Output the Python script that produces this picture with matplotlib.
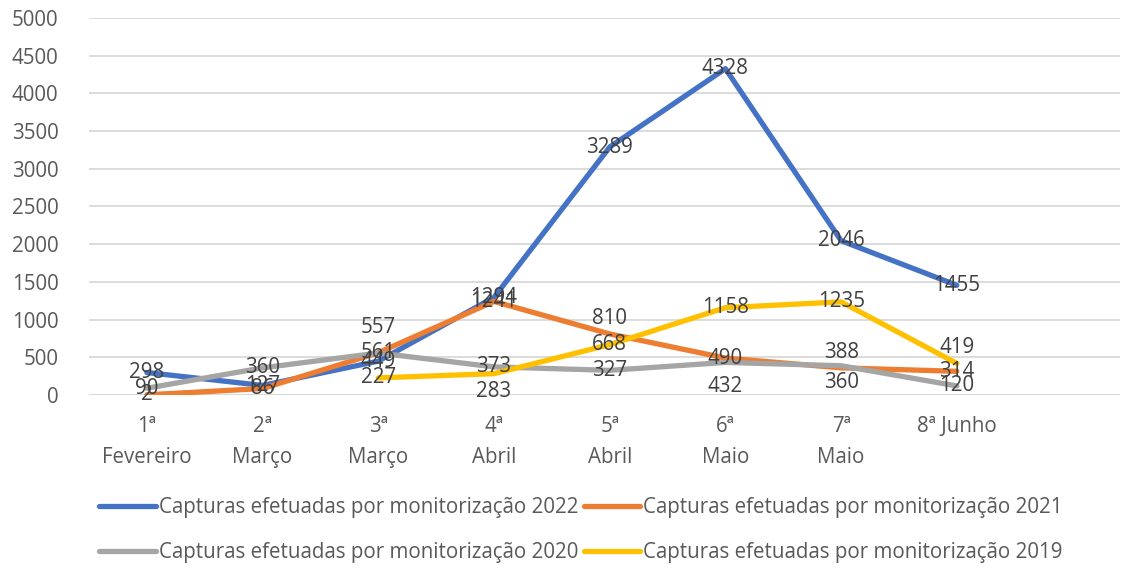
import numpy as np
import matplotlib
matplotlib.use("Agg")
import matplotlib.pyplot as plt

# ---- data ----
categories = ["1ª\nFevereiro", "2ª\nMarço", "3ª\nMarço", "4ª\nAbril", "5ª\nAbril",
              "6ª\nMaio", "7ª\nMaio", "8ª Junho"]
s2022 = [298, 127, 449, 1294, 3289, 4328, 2046, 1455]
s2021 = [2, 86, 561, 1241, 810, 490, 360, 314]
s2020 = [90, 360, 557, 373, 327, 432, 388, 120]
s2019 = [np.nan, np.nan, 227, 283, 668, 1158, 1235, 419]
series_names = ["Capturas efetuadas por monitorização 2022",
                "Capturas efetuadas por monitorização 2021",
                "Capturas efetuadas por monitorização 2020",
                "Capturas efetuadas por monitorização 2019"]
y_ticks = [0, 500, 1000, 1500, 2000, 2500, 3000, 3500, 4000, 4500, 5000]

# ---- style ----
colors = ["#4472C4", "#ED7D31", "#A5A5A5", "#FFC000"]
# vertical label nudges in pixels (positive = up), per series / point
label_dy = [
    [0, 0, 0, 0, 0, 0, 0, 0],
    [0, 0, 0, 0, 15, 0, -15, 0],
    [0, 0, 26, 0, 0, -24, 13, 0],
    [0, 0, 0, -18, 0, 0, 0, 16],
]

plt.rcParams['font.family'] = ['Open Sans', 'DejaVu Sans']
FS = 14.8

fig = plt.figure(figsize=(11.23, 5.68), dpi=100)
ax = fig.add_axes([89 / 1123, 173 / 568, (1120 - 89) / 1123, (550 - 173) / 568])

x = np.arange(len(categories))
all_series = [s2022, s2021, s2020, s2019]
lines = []
for vals, col, name in zip(all_series, colors, series_names):
    ln, = ax.plot(x, vals, color=col, lw=3.8, solid_joinstyle='round',
                  solid_capstyle='round', label=name, zorder=3)
    lines.append(ln)

for vals, dys in zip(all_series, label_dy):
    for xi, v, dy in zip(x, vals, dys):
        if np.isnan(v):
            continue
        ax.annotate(f"{int(v)}", (xi, v), xytext=(0, dy), textcoords='offset pixels',
                    ha='center', va='center', fontsize=FS, color='#404040', zorder=5)

ax.set_xlim(-0.5, 8.41)
ax.set_ylim(0, 5000)
ax.set_yticks(y_ticks)
ax.set_yticklabels([str(t) for t in y_ticks], fontsize=FS, color='#595959')
ax.set_xticks(x)
ax.set_xticklabels(categories, fontsize=FS, color='#595959', linespacing=1.65, va='top')
ax.tick_params(axis='both', length=0)
ax.tick_params(axis='x', pad=15)
ax.tick_params(axis='y', pad=22)
ax.grid(axis='y', color='#D9D9D9', lw=1.3, zorder=0)
for sp in ax.spines.values():
    sp.set_visible(False)
ax.axhline(0, color='#D9D9D9', lw=1.3, zorder=1)

# row-major legend order: 2022, 2021 / 2020, 2019
order = [0, 2, 1, 3]
leg = fig.legend([lines[i] for i in order], [series_names[i] for i in order], ncol=2,
                 loc='center', bbox_to_anchor=(581 / 1123, 1 - 530 / 568),
                 frameon=False, fontsize=FS, handlelength=2.75, handletextpad=0.15,
                 columnspacing=0.25, labelspacing=1.15, labelcolor='#595959')
for h in leg.get_lines():
    h.set_linewidth(3.8)
    h.set_solid_capstyle('round')

fig.savefig("out.png", dpi=100, facecolor='white')
